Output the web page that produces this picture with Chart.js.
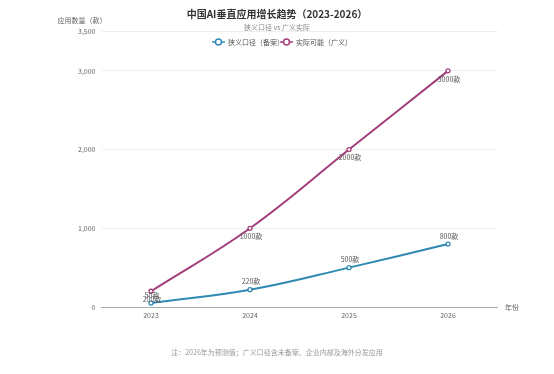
<!DOCTYPE html>
<html>
<head>
<meta charset="utf-8">
<script src="https://cdn.jsdelivr.net/npm/chart.js@4/dist/chart.umd.min.js"></script>
<style>
  html, body { margin: 0; padding: 0; background: #fff; }
  #wrap { width: 554px; height: 374px; position: relative; }
</style>
</head>
<body>
<div id="wrap"><canvas id="chart" width="554" height="374"></canvas></div>
<script>
const years = ['2023', '2024', '2025', '2026'];
const narrowValues = [50, 220, 500, 800];
const broadValues = [200, 1000, 2000, 3000];
const yTicks = [0, 1000, 2000, 3000, 3500];

const narrowColor = '#2f89b2';
const broadColor = '#a23e79';
const FONT = '"Noto Sans CJK SC", "Noto Sans", sans-serif';

const overlay = {
    id: 'overlay',
    afterDatasetsDraw(chart) {
        const ctx = chart.ctx;
        const area = chart.chartArea;
        ctx.save();
        ctx.textBaseline = 'middle';

        // title + subtitle
        ctx.textAlign = 'center';
        ctx.fillStyle = '#333';
        ctx.font = 'bold 10px ' + FONT;
        ctx.fillText('中国AI垂直应用增长趋势（2023-2026）', 277, 14);
        ctx.fillStyle = '#888';
        ctx.font = '7px ' + FONT;
        ctx.fillText('狭义口径 vs 广义实际', 277, 27);

        // legend
        const items = [
            { text: '狭义口径（备案）', color: narrowColor, x: 212 },
            { text: '实际可能（广义）', color: broadColor, x: 280 },
        ];
        items.forEach((it) => {
            ctx.strokeStyle = it.color;
            ctx.lineWidth = 1.5;
            ctx.beginPath();
            ctx.moveTo(it.x, 42);
            ctx.lineTo(it.x + 13, 42);
            ctx.stroke();
            ctx.beginPath();
            ctx.arc(it.x + 6.5, 42, 3, 0, Math.PI * 2);
            ctx.fillStyle = '#fff';
            ctx.fill();
            ctx.stroke();
            ctx.fillStyle = '#555';
            ctx.textAlign = 'left';
            ctx.font = '7px ' + FONT;
            ctx.fillText(it.text, it.x + 16, 42);
        });

        // axis names
        ctx.fillStyle = '#666';
        ctx.font = '7px ' + FONT;
        ctx.textAlign = 'center';
        ctx.fillText('应用数量（款）', 82, 20);
        ctx.textAlign = 'left';
        ctx.fillText('年份', 505, area.bottom);

        // footnote
        ctx.fillStyle = '#999';
        ctx.textAlign = 'center';
        ctx.fillText('注：2026年为预测值；广义口径含未备案、企业内部及海外分发应用', 277, 352);

        // data labels
        ctx.fillStyle = '#555';
        ctx.font = '7px ' + FONT;
        chart.data.datasets.forEach((ds, di) => {
            const meta = chart.getDatasetMeta(di);
            meta.data.forEach((pt, i) => {
                const dy = di === 0 ? -8 : 8;
                ctx.textAlign = 'center';
                ctx.fillText(ds.data[i] + '款', pt.x + 1, pt.y + dy);
            });
        });
        ctx.restore();
    },
};

new Chart(document.getElementById('chart').getContext('2d'), {
    type: 'line',
    data: {
        labels: years,
        datasets: [
            {
                label: '狭义口径（备案）',
                data: narrowValues,
                borderColor: narrowColor,
                backgroundColor: '#fff',
                borderWidth: 2,
                tension: 0.4,
                pointRadius: 2,
                pointBorderWidth: 1.3,
                pointBackgroundColor: '#fff',
                fill: false,
            },
            {
                label: '实际可能（广义）',
                data: broadValues,
                borderColor: broadColor,
                backgroundColor: '#fff',
                borderWidth: 2,
                tension: 0.4,
                pointRadius: 2,
                pointBorderWidth: 1.3,
                pointBackgroundColor: '#fff',
                fill: false,
            },
        ],
    },
    options: {
        responsive: false,
        animation: false,
        layout: { padding: { top: 31.5, right: 56.5, left: 0, bottom: 0 } },
        plugins: {
            legend: { display: false },
            title: { display: false },
            tooltip: { enabled: false },
        },
        scales: {
            x: {
                offset: true,
                grid: { display: false, drawTicks: false },
                border: { color: '#aaa', width: 1 },
                ticks: { color: '#666', font: { size: 7, family: FONT }, padding: 4 },
                afterFit: (scale) => { scale.height = 67; },
            },
            y: {
                min: 0,
                max: 3500,
                afterBuildTicks: (scale) => { scale.ticks = yTicks.map((v) => ({ value: v })); },
                grid: { color: '#eee', drawTicks: false },
                border: { display: false },
                ticks: {
                    color: '#666',
                    font: { size: 7, family: FONT },
                    padding: 6,
                    callback: (v) => v.toLocaleString('en-US'),
                },
                afterFit: (scale) => { scale.width = 101.5; },
            },
        },
    },
    plugins: [overlay],
});
</script>
</body>
</html>
